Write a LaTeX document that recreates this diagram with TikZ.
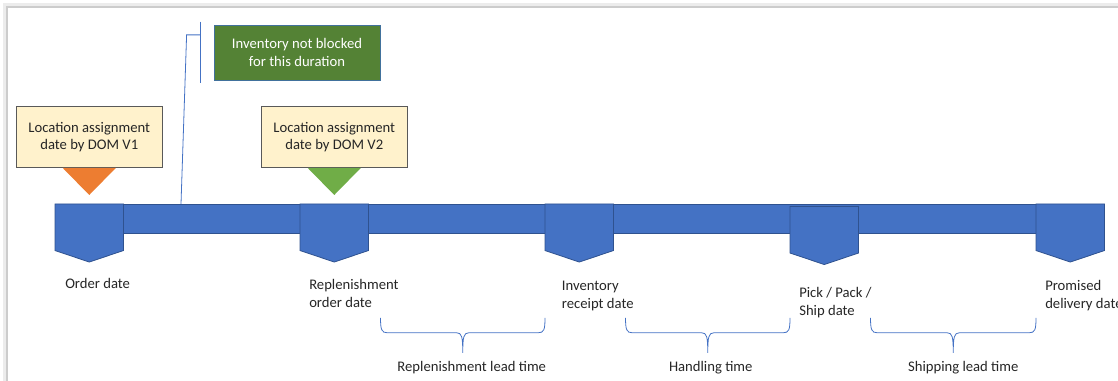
\documentclass[tikz,border=0pt]{standalone}
\usepackage{fontspec}
\setmainfont{Carlito}
\usepackage{tikz}
\usetikzlibrary{positioning, calc}
\usepackage{xcolor}

\definecolor{tlblue}{HTML}{4472C4}
\definecolor{tlline}{HTML}{2F528F}
\definecolor{tlcream}{HTML}{FFF2CC}
\definecolor{tlorange}{HTML}{ED7D31}
\definecolor{tlgreen}{HTML}{70AD47}
\definecolor{tldark}{HTML}{548235}
\definecolor{tlnote}{HTML}{41719C}

\begin{document}
\begin{tikzpicture}[
    x=0.75pt, y=-0.75pt,
    font=\fontsize{11}{13.4}\selectfont,
    datemark/.style={rectangle, minimum width=51pt, minimum height=34.5pt, inner sep=0pt, anchor=north west},
    pent/.style={fill=tlblue, draw=tlline, line width=0.6pt},
    bar/.style={rectangle, fill=tlblue, draw=tlline, line width=0.6pt, minimum width=735.75pt, minimum height=21.75pt, inner sep=0pt, anchor=north west},
    lbl/.style={align=left, inner sep=0pt, text=black!85},
    callout/.style={draw=black!65, fill=tlcream, line width=0.6pt, minimum width=109.5pt, minimum height=45.75pt, align=center, inner sep=0pt, text=black!85},
    note/.style={draw=tlnote, fill=tldark, line width=0.6pt, minimum width=124.5pt, minimum height=41.25pt, align=center, inner sep=0pt, text=white},
    lead/.style={draw=tlblue, line width=0.6pt},
    brc/.style={draw=tlblue, line width=0.6pt}
]
    \useasboundingbox (0,0) rectangle (1118,381);
    % window shadow
    \draw[gray!15, line width=2pt] (4.5,381) -- (4.5,4.5) -- (1118,4.5);
    \draw[gray!40, line width=1pt] (7,381) -- (7,7) -- (1118,7);

    % timeline
    \node[bar] (line) at (55,204) {};

    \node[datemark] (order) at (55,204) {};
    \node[datemark] (repl) at (300,204) {};
    \node[datemark] (receipt) at (545,204) {};
    \node[datemark] (ship) at (790,206.5) {};
    \node[datemark] (promised) at (1036,204) {};

    \foreach \m in {order,repl,receipt,ship,promised}
        \filldraw[pent] (\m.north west) -- (\m.north east) -- (\m.south east) -- ($(\m.south)+(0,11.5)$) -- (\m.south west) -- cycle;

    \node[lbl, below right=21pt and 7.5pt of order.south west] (l-order) {Order date};
    \node[lbl, below right=21.75pt and 6.75pt of repl.south west] (l-repl) {Replenishment\\order date};
    \node[lbl, below right=22.5pt and 12.5pt of receipt.south west] (l-receipt) {Inventory\\receipt date};
    \node[lbl, below right=25.25pt and 6.75pt of ship.south west] (l-ship) {Pick / Pack /\\Ship date};
    \node[lbl, below right=22pt and 6.75pt of promised.south west] (l-promised) {Promised\\delivery date};

    % location assignment callouts
    \node[callout, above=27pt of order] (v1) {Location assignment\\date by DOM V1};
    \node[callout, above=27pt of repl] (v2) {Location assignment\\date by DOM V2};
    \foreach \b/\c in {v1/tlorange, v2/tlgreen}
        \fill[\c] ($(\b.south)+(-26.5,0)$) -- ($(\b.south)+(26.5,0)$) -- ($(\b.south)+(0,27)$) -- cycle;

    % note with leader
    \node[note] (note) at (297,52.5) {Inventory not blocked\\for this duration};
    \coordinate (hit) at (181,204);
    \draw[lead] ($(note.north west)+(-13.6,-3)$) -- ($(note.south west)+(-13.6,3)$);
    \draw[lead] ($(note.north west)+(-13.6,10.3)$) -- ++(-13.4,0) -- (hit);

    % spans
    \foreach \a/\b/\dx/\txt [count=\i] in {repl/receipt/9/Replenishment lead time, receipt/ship/3/Handling time, ship/promised/10/Shipping lead time} {
        \coordinate (bl) at ($(\a.east |- line.south)+(12,84)$);
        \coordinate (br) at ($(\b.west |- line.south)+(0,84)$);
        \coordinate (bm) at ($(bl)!0.5!(br)$);
        \draw[brc] (bl) .. controls +(0,12) and +(-6,0) .. ($(bl)+(7,15)$) -- ($(bm)+(-6,15)$)
            .. controls +(5,0) and +(0,-16) .. ($(bm)+(0,35)$)
            .. controls +(0,-16) and +(-5,0) .. ($(bm)+(6,15)$) -- ($(br)+(-7,15)$)
            .. controls +(6,0) and +(0,12) .. (br);
        \node[lbl] (span\i) at ($(bm)+(\dx,50)$) {\txt};
    }
\end{tikzpicture}
\end{document}
